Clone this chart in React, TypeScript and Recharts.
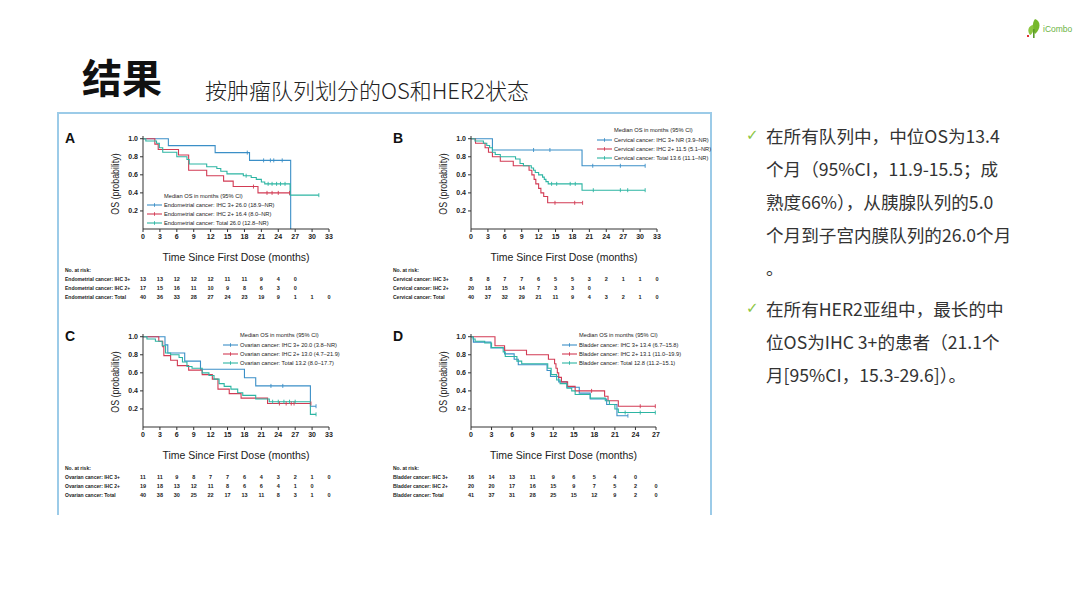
import React from "react";
import { LineChart, Line, XAxis, YAxis } from "recharts";

type Pt = { t: number; s: number; c?: number };

// A: endometrial
const endoIhc3: Pt[] = [
  { t: 0, s: 1 }, { t: 4.5, s: 0.923 }, { t: 12.8, s: 0.846 }, { t: 18.5, s: 0.846, c: 1 },
  { t: 18.9, s: 0.76 }, { t: 21.4, s: 0.76, c: 1 }, { t: 22.6, s: 0.76, c: 1 }, { t: 23.2, s: 0.76, c: 1 },
  { t: 24.7, s: 0.76, c: 1 }, { t: 26.2, s: 0 },
];
const endoIhc2: Pt[] = [
  { t: 0, s: 1 }, { t: 2.1, s: 0.94 }, { t: 2.7, s: 0.88 }, { t: 6.3, s: 0.82 }, { t: 8.1, s: 0.65 },
  { t: 11.3, s: 0.59 }, { t: 14.3, s: 0.53 }, { t: 16.0, s: 0.47 }, { t: 19.6, s: 0.47, c: 1 },
  { t: 20.4, s: 0.4 }, { t: 22.0, s: 0.4, c: 1 }, { t: 22.9, s: 0.4, c: 1 }, { t: 24.0, s: 0.4, c: 1 },
  { t: 26.0, s: 0.4, c: 1 },
];
const endoTotal: Pt[] = [
  { t: 0, s: 1 }, { t: 0.5, s: 0.975 }, { t: 2.4, s: 0.95 }, { t: 2.9, s: 0.9 }, { t: 3.5, s: 0.85 },
  { t: 6.0, s: 0.8 }, { t: 7.8, s: 0.77 }, { t: 8.2, s: 0.72 }, { t: 11.3, s: 0.69 }, { t: 13.1, s: 0.67 },
  { t: 13.8, s: 0.64 }, { t: 14.9, s: 0.61 }, { t: 17.8, s: 0.59 }, { t: 18.3, s: 0.59, c: 1 },
  { t: 19.2, s: 0.57 }, { t: 20.1, s: 0.55 }, { t: 21.0, s: 0.52 }, { t: 21.6, s: 0.5 },
  { t: 22.2, s: 0.5, c: 1 }, { t: 22.9, s: 0.5, c: 1 }, { t: 23.7, s: 0.5, c: 1 }, { t: 24.4, s: 0.5, c: 1 },
  { t: 25.2, s: 0.5, c: 1 }, { t: 26.1, s: 0.375 }, { t: 31.2, s: 0.375, c: 1 },
];
const endoRisk3 = [13, 13, 12, 12, 12, 11, 11, 9, 4, 0];
const endoRisk2 = [17, 15, 16, 11, 10, 9, 8, 6, 3, 0];
const endoRiskTotal = [40, 36, 33, 28, 27, 24, 23, 19, 9, 1, 1, 0];

// B: cervical
const cervIhc3: Pt[] = [
  { t: 0, s: 1 }, { t: 3.8, s: 0.875 }, { t: 11.1, s: 0.875, c: 1 }, { t: 14.0, s: 0.875, c: 1 },
  { t: 19.7, s: 0.7 }, { t: 21.6, s: 0.7, c: 1 }, { t: 26.5, s: 0.7, c: 1 }, { t: 30.9, s: 0.7, c: 1 },
];
const cervIhc2: Pt[] = [
  { t: 0, s: 1 }, { t: 0.8, s: 0.95 }, { t: 2.5, s: 0.9 }, { t: 3.1, s: 0.85 }, { t: 3.8, s: 0.8 },
  { t: 5.2, s: 0.75 }, { t: 7.5, s: 0.7 }, { t: 10.3, s: 0.65 }, { t: 10.8, s: 0.6 }, { t: 11.2, s: 0.55 },
  { t: 11.5, s: 0.5 }, { t: 12.0, s: 0.45 }, { t: 12.4, s: 0.4 }, { t: 12.9, s: 0.36 }, { t: 13.6, s: 0.29 },
  { t: 14.9, s: 0.29, c: 1 }, { t: 18.4, s: 0.29, c: 1 }, { t: 19.8, s: 0.29, c: 1 },
];
const cervTotal: Pt[] = [
  { t: 0, s: 1 }, { t: 0.7, s: 0.975 }, { t: 2.2, s: 0.95 }, { t: 2.8, s: 0.925 }, { t: 3.3, s: 0.9 },
  { t: 3.8, s: 0.85 }, { t: 4.3, s: 0.825 }, { t: 5.2, s: 0.8 }, { t: 7.9, s: 0.775 }, { t: 8.7, s: 0.725 },
  { t: 9.3, s: 0.7 }, { t: 10.7, s: 0.675 }, { t: 11.1, s: 0.65 }, { t: 11.4, s: 0.625 }, { t: 12.0, s: 0.6 },
  { t: 12.7, s: 0.575 }, { t: 13.0, s: 0.55 }, { t: 13.3, s: 0.525 }, { t: 13.7, s: 0.5 },
  { t: 14.3, s: 0.5, c: 1 }, { t: 15.2, s: 0.5, c: 1 }, { t: 17.6, s: 0.5, c: 1 }, { t: 18.5, s: 0.5, c: 1 },
  { t: 19.7, s: 0.43 }, { t: 21.7, s: 0.43, c: 1 }, { t: 26.5, s: 0.43, c: 1 }, { t: 27.8, s: 0.43, c: 1 },
  { t: 30.9, s: 0.43, c: 1 },
];
const cervRisk3 = [8, 8, 7, 7, 6, 5, 5, 3, 2, 1, 1, 0];
const cervRisk2 = [20, 18, 15, 14, 7, 3, 3, 0];
const cervRiskTotal = [40, 37, 32, 29, 21, 11, 9, 4, 3, 2, 1, 0];

// C: ovarian
const ovIhc3: Pt[] = [
  { t: 0, s: 1 }, { t: 3.9, s: 0.91 }, { t: 4.4, s: 0.82 }, { t: 7.4, s: 0.73 }, { t: 10.2, s: 0.64 },
  { t: 18.0, s: 0.545 }, { t: 20.0, s: 0.455 }, { t: 22.7, s: 0.455, c: 1 }, { t: 24.8, s: 0.455, c: 1 },
  { t: 29.7, s: 0.23 }, { t: 30.7, s: 0.23, c: 1 },
];
const ovIhc2: Pt[] = [
  { t: 0, s: 1 }, { t: 2.8, s: 0.95 }, { t: 3.5, s: 0.89 }, { t: 3.7, s: 0.79 }, { t: 4.9, s: 0.74 },
  { t: 6.1, s: 0.68 }, { t: 8.1, s: 0.63 }, { t: 10.5, s: 0.58 }, { t: 12.3, s: 0.53 }, { t: 13.3, s: 0.42 },
  { t: 15.3, s: 0.37 }, { t: 17.4, s: 0.32 }, { t: 22.1, s: 0.26 }, { t: 24.2, s: 0.26, c: 1 },
  { t: 25.4, s: 0.26, c: 1 }, { t: 26.3, s: 0.26, c: 1 }, { t: 26.8, s: 0.26, c: 1 }, { t: 29.8, s: 0.26, c: 1 },
];
const ovTotal: Pt[] = [
  { t: 0, s: 1 }, { t: 0.7, s: 0.975 }, { t: 2.2, s: 0.95 }, { t: 3.4, s: 0.9 }, { t: 4.0, s: 0.82 },
  { t: 4.9, s: 0.8 }, { t: 6.4, s: 0.77 }, { t: 7.0, s: 0.72 }, { t: 7.8, s: 0.67 }, { t: 8.7, s: 0.65 },
  { t: 10.5, s: 0.6 }, { t: 11.7, s: 0.57 }, { t: 12.6, s: 0.53 }, { t: 13.5, s: 0.48 }, { t: 14.4, s: 0.45 },
  { t: 15.6, s: 0.42 }, { t: 16.8, s: 0.38 }, { t: 17.7, s: 0.35 }, { t: 20.0, s: 0.31 }, { t: 22.4, s: 0.28 },
  { t: 23.0, s: 0.28, c: 1 }, { t: 24.0, s: 0.28, c: 1 }, { t: 25.0, s: 0.28, c: 1 }, { t: 26.0, s: 0.28, c: 1 },
  { t: 27.0, s: 0.28, c: 1 }, { t: 29.7, s: 0.14 }, { t: 30.7, s: 0.14, c: 1 },
];
const ovRisk3 = [11, 11, 9, 8, 7, 7, 6, 4, 3, 2, 1, 0];
const ovRisk2 = [19, 18, 13, 12, 11, 8, 6, 6, 4, 1, 0];
const ovRiskTotal = [40, 38, 30, 25, 22, 17, 13, 11, 8, 3, 1, 0];

// D: bladder
const bladIhc3: Pt[] = [
  { t: 0, s: 1 }, { t: 0.35, s: 0.94 }, { t: 2.9, s: 0.875 }, { t: 4.9, s: 0.81 }, { t: 6.3, s: 0.75 },
  { t: 6.9, s: 0.69 }, { t: 11.1, s: 0.625 }, { t: 11.6, s: 0.56 }, { t: 12.8, s: 0.5 }, { t: 14.0, s: 0.44 },
  { t: 15.8, s: 0.375 }, { t: 17.4, s: 0.31 }, { t: 19.8, s: 0.25 }, { t: 21.3, s: 0.125 },
  { t: 22.9, s: 0.125, c: 1 },
];
const bladIhc2: Pt[] = [
  { t: 0, s: 1 }, { t: 3.5, s: 0.9 }, { t: 4.9, s: 0.85 }, { t: 8.1, s: 0.8 }, { t: 11.3, s: 0.75 },
  { t: 12.2, s: 0.7 }, { t: 12.4, s: 0.65 }, { t: 12.6, s: 0.6 }, { t: 12.8, s: 0.55 }, { t: 13.2, s: 0.5 },
  { t: 14.1, s: 0.45 }, { t: 15.2, s: 0.4 }, { t: 17.6, s: 0.4, c: 1 }, { t: 19.5, s: 0.34 },
  { t: 20.0, s: 0.29 }, { t: 21.5, s: 0.23 }, { t: 24.7, s: 0.23, c: 1 }, { t: 26.9, s: 0.23, c: 1 },
];
const bladTotal: Pt[] = [
  { t: 0, s: 1 }, { t: 0.3, s: 0.975 }, { t: 0.6, s: 0.95 }, { t: 2.0, s: 0.93 }, { t: 3.0, s: 0.88 },
  { t: 4.7, s: 0.83 }, { t: 5.0, s: 0.78 }, { t: 6.7, s: 0.73 }, { t: 7.4, s: 0.7 }, { t: 11.2, s: 0.65 },
  { t: 11.7, s: 0.58 }, { t: 12.5, s: 0.52 }, { t: 13.0, s: 0.48 }, { t: 14.0, s: 0.43 }, { t: 14.7, s: 0.4 },
  { t: 15.2, s: 0.36 }, { t: 17.4, s: 0.32 }, { t: 19.6, s: 0.29 }, { t: 20.2, s: 0.25 }, { t: 21.0, s: 0.2 },
  { t: 21.5, s: 0.16 }, { t: 22.5, s: 0.16, c: 1 }, { t: 24.7, s: 0.16, c: 1 }, { t: 26.9, s: 0.16, c: 1 },
];
const bladRisk3 = [16, 14, 13, 11, 9, 6, 5, 4, 0];
const bladRisk2 = [20, 20, 17, 16, 15, 9, 7, 5, 2, 0];
const bladRiskTotal = [41, 37, 31, 28, 25, 15, 12, 9, 2, 0];

const ticks33 = [0, 3, 6, 9, 12, 15, 18, 21, 24, 27, 30, 33];
const ticks27 = [0, 3, 6, 9, 12, 15, 18, 21, 24, 27];
const yTicks = [0.2, 0.4, 0.6, 0.8, 1.0];

const bullet1 = [
  "在所有队列中，中位OS为13.4",
  "个月（95%CI，11.9-15.5；成",
  "熟度66%），从胰腺队列的5.0",
  "个月到子宫内膜队列的26.0个月",
  "。",
];
const bullet2 = [
  "在所有HER2亚组中，最长的中",
  "位OS为IHC 3+的患者（21.1个",
  "月[95%CI，15.3-29.6]）。",
];

const BLUE = "#3b8fc7";
const RED = "#d23b54";
const TEAL = "#2db5a3";
const SANS = "'Liberation Sans', Arial, sans-serif";
const CJK = "'Noto Sans CJK SC', 'Noto Sans', sans-serif";

type Series = { name: string; label: string; data: Pt[]; color: string; risk: number[] };
type PanelDef = {
  letter: string;
  left: number; // x of panel letter / risk labels
  plotX: number;
  plotY: number; // pixel of y = 1.03
  plotW: number;
  xMax: number;
  ticks: number[];
  legendX: number;
  legendY: number;
  series: Series[];
};

const Y_MAX = 1.03;
const PLOT_H = 93;
const ML = 40;
const MT = 4;
const MR = 10;
const XH = 20;

const censorDot = (color: string) => (props: any) => {
  const { cx, cy, payload, index } = props;
  if (!payload || !payload.c || cx == null) return <g key={`n${index}`} />;
  return <line key={`c${index}`} x1={cx} x2={cx} y1={cy - 2} y2={cy + 2} stroke={color} strokeWidth={0.9} />;
};

const abs = (left: number, top: number, extra: React.CSSProperties = {}): React.CSSProperties => ({
  position: "absolute",
  left,
  top,
  whiteSpace: "nowrap",
  ...extra,
});

function Panel({ p }: { p: PanelDef }) {
  const zeroY = p.plotY + PLOT_H;
  const oneY = p.plotY + (PLOT_H * (Y_MAX - 1)) / Y_MAX;
  const tickX = (i: number) => p.plotX + (p.ticks[i] / p.xMax) * p.plotW;
  return (
    <>
      <div style={abs(p.left, oneY - 9, { font: `bold 14px ${SANS}`, color: "#111" })}>{p.letter}</div>
      <div style={abs(p.plotX - ML, p.plotY - MT)}>
        <LineChart width={ML + p.plotW + MR} height={MT + PLOT_H + XH} margin={{ top: MT, right: MR, left: 0, bottom: 0 }}>
          <XAxis
            type="number"
            dataKey="t"
            domain={[0, p.xMax]}
            ticks={p.ticks}
            interval={0}
            height={XH}
            tickSize={3}
            tickMargin={2}
            stroke="#333"
            tick={{ fontSize: 7, fill: "#222", fontWeight: 700, fontFamily: SANS }}
            allowDuplicatedCategory={false}
          />
          <YAxis
            type="number"
            dataKey="s"
            domain={[0, Y_MAX]}
            ticks={yTicks}
            width={ML}
            tickSize={3}
            tickMargin={2}
            stroke="#333"
            tickFormatter={(v: number) => v.toFixed(1)}
            tick={{ fontSize: 7, fill: "#222", fontWeight: 700, fontFamily: SANS }}
          />
          {p.series.map((s) => (
            <Line
              key={s.name}
              name={s.name}
              data={s.data}
              dataKey="s"
              type="stepAfter"
              stroke={s.color}
              strokeWidth={1.1}
              dot={censorDot(s.color)}
              activeDot={false}
              isAnimationActive={false}
            />
          ))}
        </LineChart>
      </div>
      {/* axis titles */}
      <div
        style={abs(p.plotX + p.plotW / 2, zeroY + 28, {
          transform: "translate(-50%, -50%)",
          font: `10.5px ${SANS}`,
          color: "#1a1a1a",
        })}
      >
        Time Since First Dose (months)
      </div>
      <div
        style={abs(p.plotX - 28, (oneY + zeroY) / 2, {
          transform: "translate(-50%, -50%) rotate(-90deg) scaleX(0.84)",
          font: `10.5px ${SANS}`,
          color: "#1a1a1a",
        })}
      >
        OS (probability)
      </div>
      {/* legend */}
      <div style={abs(p.legendX + 17, p.legendY, { transform: "translateY(-50%)", font: `5.7px ${SANS}`, color: "#222" })}>
        Median OS in months (95% CI)
      </div>
      {p.series.map((s, i) => (
        <React.Fragment key={s.name}>
          <svg style={abs(p.legendX, p.legendY + 9.5 + 9 * i - 3)} width={15} height={6}>
            <line x1={0} x2={15} y1={3} y2={3} stroke={s.color} strokeWidth={1.1} />
            <line x1={7.5} x2={7.5} y1={1.2} y2={4.8} stroke={s.color} strokeWidth={0.9} />
          </svg>
          <div
            style={abs(p.legendX + 17, p.legendY + 9.5 + 9 * i, {
              transform: "translateY(-50%)",
              font: `5.7px ${SANS}`,
              color: "#222",
            })}
          >
            {s.label}
          </div>
        </React.Fragment>
      ))}
      {/* number at risk */}
      <div style={abs(p.left, zeroY + 41, { transform: "translateY(-50%)", font: `bold 5px ${SANS}`, color: "#222" })}>
        No. at risk:
      </div>
      {p.series.map((s, i) => (
        <React.Fragment key={`r${s.name}`}>
          <div
            style={abs(p.left, zeroY + 50 + 8.7 * i, {
              transform: "translateY(-50%)",
              font: `bold 5px ${SANS}`,
              color: "#222",
            })}
          >
            {s.name}
          </div>
          {s.risk.map((n, j) => (
            <div
              key={j}
              style={abs(tickX(j), zeroY + 50 + 8.7 * i, {
                transform: "translate(-50%, -50%)",
                font: `bold 5.5px ${SANS}`,
                color: "#222",
              })}
            >
              {n}
            </div>
          ))}
        </React.Fragment>
      ))}
    </>
  );
}

const panels: PanelDef[] = [
  {
    letter: "A", left: 65, plotX: 143, plotY: 136.3, plotW: 186, xMax: 33, ticks: ticks33, legendX: 147, legendY: 195.7,
    series: [
      { name: "Endometrial cancer: IHC 3+", label: "Endometrial cancer: IHC 3+ 26.0 (18.9–NR)", data: endoIhc3, color: BLUE, risk: endoRisk3 },
      { name: "Endometrial cancer: IHC 2+", label: "Endometrial cancer: IHC 2+ 16.4 (8.0–NR)", data: endoIhc2, color: RED, risk: endoRisk2 },
      { name: "Endometrial cancer: Total", label: "Endometrial cancer: Total 26.0 (12.8–NR)", data: endoTotal, color: TEAL, risk: endoRiskTotal },
    ],
  },
  {
    letter: "B", left: 393, plotX: 471, plotY: 136.3, plotW: 186, xMax: 33, ticks: ticks33, legendX: 597, legendY: 130,
    series: [
      { name: "Cervical cancer: IHC 3+", label: "Cervical cancer: IHC 3+ NR (3.9–NR)", data: cervIhc3, color: BLUE, risk: cervRisk3 },
      { name: "Cervical cancer: IHC 2+", label: "Cervical cancer: IHC 2+ 11.5 (5.1–NR)", data: cervIhc2, color: RED, risk: cervRisk2 },
      { name: "Cervical cancer: Total", label: "Cervical cancer: Total 13.6 (11.1–NR)", data: cervTotal, color: TEAL, risk: cervRiskTotal },
    ],
  },
  {
    letter: "C", left: 65, plotX: 143, plotY: 334.3, plotW: 186, xMax: 33, ticks: ticks33, legendX: 223, legendY: 335,
    series: [
      { name: "Ovarian cancer: IHC 3+", label: "Ovarian cancer: IHC 3+ 20.0 (3.8–NR)", data: ovIhc3, color: BLUE, risk: ovRisk3 },
      { name: "Ovarian cancer: IHC 2+", label: "Ovarian cancer: IHC 2+ 13.0 (4.7–21.9)", data: ovIhc2, color: RED, risk: ovRisk2 },
      { name: "Ovarian cancer: Total", label: "Ovarian cancer: Total 13.2 (8.0–17.7)", data: ovTotal, color: TEAL, risk: ovRiskTotal },
    ],
  },
  {
    letter: "D", left: 393, plotX: 471, plotY: 334.3, plotW: 185, xMax: 27, ticks: ticks27, legendX: 562, legendY: 335,
    series: [
      { name: "Bladder cancer: IHC 3+", label: "Bladder cancer: IHC 3+ 13.4 (6.7–15.8)", data: bladIhc3, color: BLUE, risk: bladRisk3 },
      { name: "Bladder cancer: IHC 2+", label: "Bladder cancer: IHC 2+ 13.1 (11.0–19.9)", data: bladIhc2, color: RED, risk: bladRisk2 },
      { name: "Bladder cancer: Total", label: "Bladder cancer: Total 12.8 (11.2–15.1)", data: bladTotal, color: TEAL, risk: bladRiskTotal },
    ],
  },
];

export default function App() {
  return (
    <div
      style={{
        position: "absolute",
        left: 0,
        top: 0,
        width: 1080,
        height: 608,
        background: "#fff",
        overflow: "hidden",
        fontFamily: SANS,
      }}
    >
      {/* logo */}
      <svg style={abs(1025, 17)} width={17} height={23}>
        <path d="M10 2 C16 4 16 12 10 17 C7 12 7 6 10 2 Z" fill="#76b82a" />
        <path d="M8 8 C3 9 2 14 5 18 C8 17 9 12 8 8 Z" fill="#8cc63f" />
        <rect x={8} y={12} width={1.6} height={9} fill="#5a9a2a" />
        <rect x={2} y={18} width={2} height={2} fill="#e03030" />
      </svg>
      <div style={abs(1043, 24, { font: `8.5px ${SANS}`, color: "#6cb33f" })}>iCombo</div>

      {/* title */}
      <div style={abs(82, 56, { font: `700 40px/40px ${CJK}`, color: "#111" })}>结果</div>
      <div style={abs(205, 78, { font: `300 22px/22px ${CJK}`, color: "#222" })}>按肿瘤队列划分的OS和HER2状态</div>

      {/* figure frame */}
      <div
        style={abs(57, 112, {
          width: 655,
          height: 403,
          borderTop: "2px solid #9ccbe8",
          borderLeft: "2px solid #9ccbe8",
          borderRight: "2px solid #9ccbe8",
          boxSizing: "border-box",
        })}
      />

      {panels.map((p) => (
        <Panel key={p.letter} p={p} />
      ))}

      {/* right text */}
      <div style={abs(746, 135, { transform: "translateY(-50%)", font: `15px 'DejaVu Sans', sans-serif`, color: "#8cc63f" })}>✓</div>
      {bullet1.map((line, i) => (
        <div key={`b1${i}`} style={abs(766, 118.5 + 33 * i, { font: `17.6px/33px ${CJK}`, color: "#333" })}>
          {line}
        </div>
      ))}
      <div style={abs(746, 308, { transform: "translateY(-50%)", font: `15px 'DejaVu Sans', sans-serif`, color: "#8cc63f" })}>✓</div>
      {bullet2.map((line, i) => (
        <div key={`b2${i}`} style={abs(766, 291.5 + 33 * i, { font: `17.6px/33px ${CJK}`, color: "#333" })}>
          {line}
        </div>
      ))}
    </div>
  );
}
